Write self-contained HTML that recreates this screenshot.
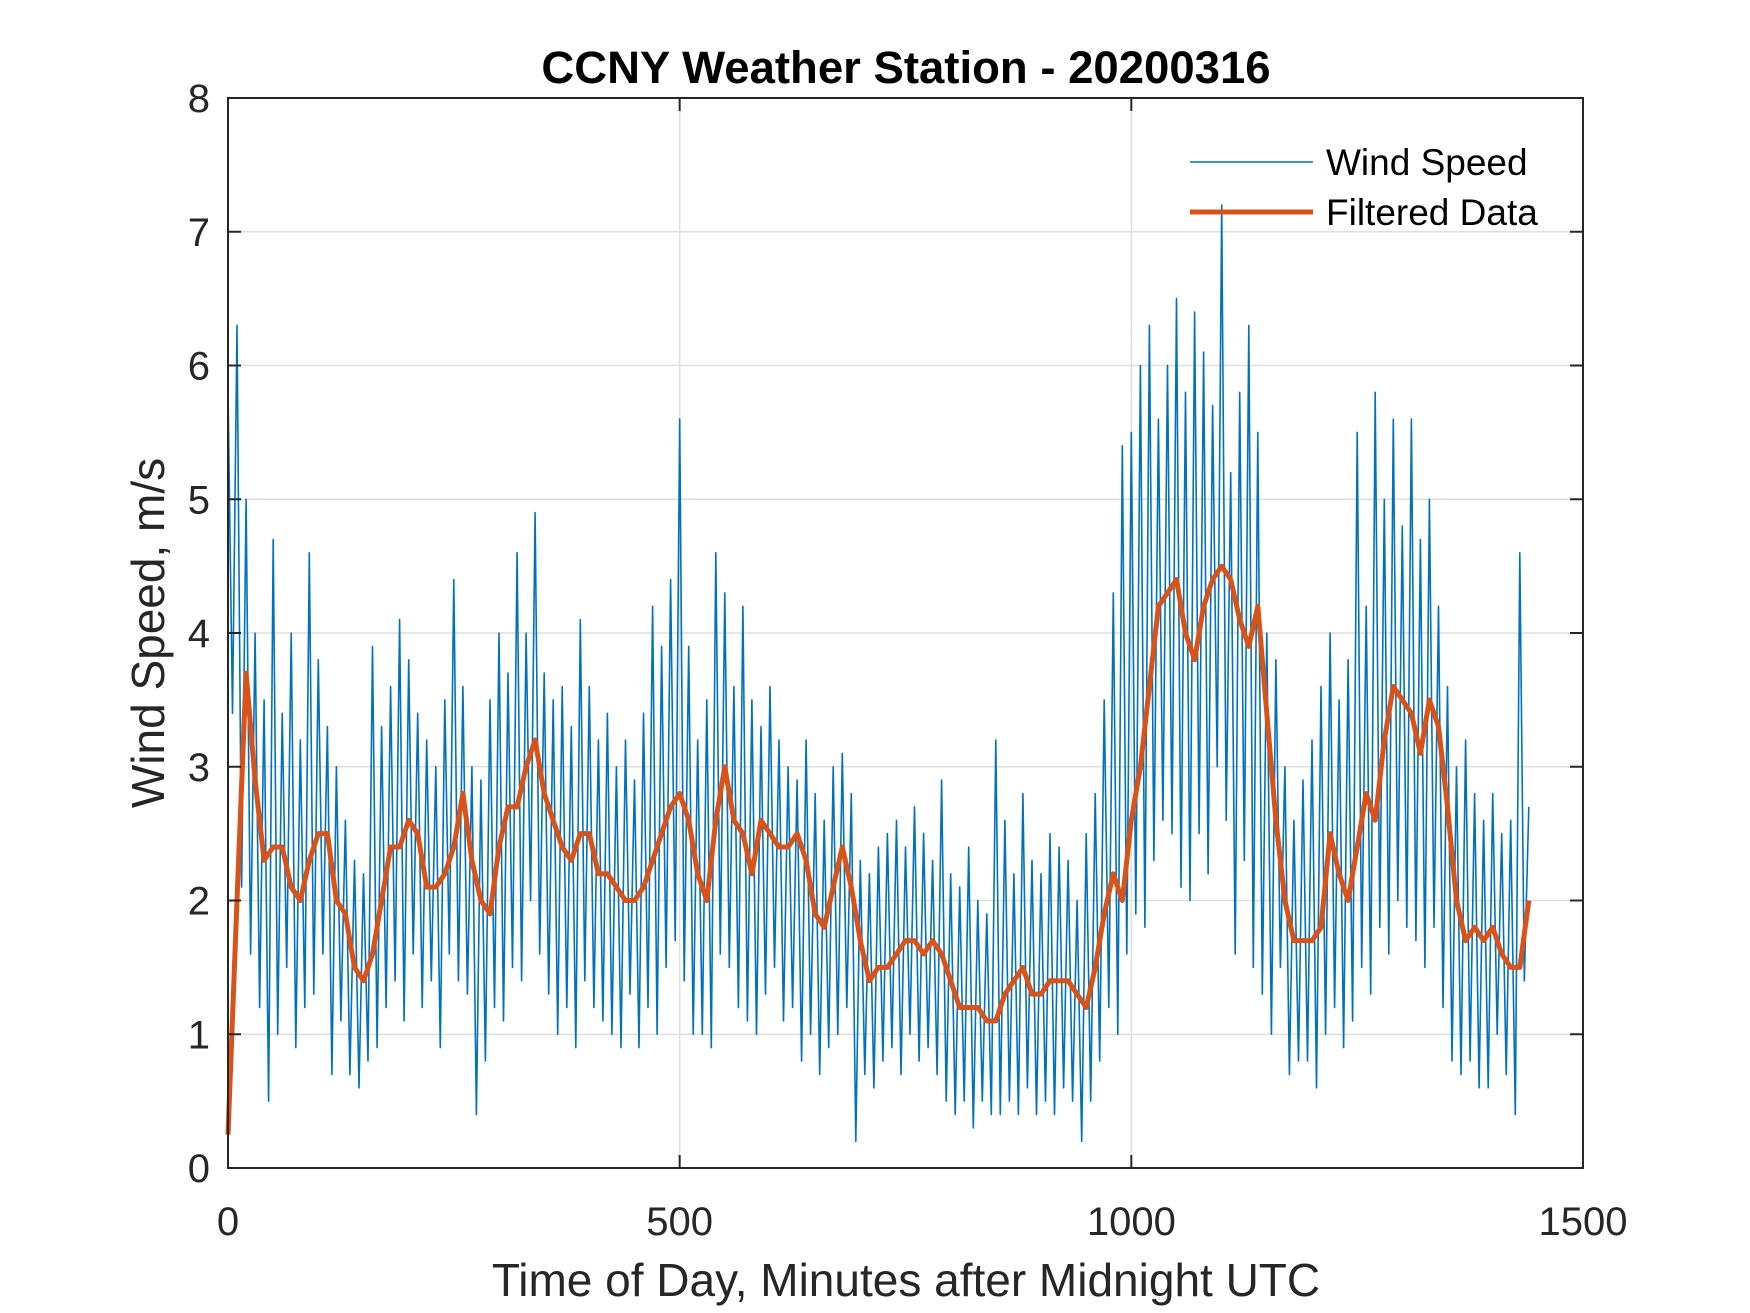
<!DOCTYPE html>
<html><head><meta charset="utf-8"><style>
html,body{margin:0;padding:0;background:#fff;}
svg{display:block;font-family:"Liberation Sans",Arial,sans-serif;}
</style></head><body>
<svg id="chart" width="1750" height="1313" viewBox="0 0 1750 1313">
<rect x="0" y="0" width="1750" height="1313" fill="#fff"/>
<g id="grid"></g>
<g id="series"></g>
<rect x="228" y="98" width="1355" height="1070" fill="none" stroke="#262626" stroke-width="2"/>
<g id="ticks"></g>
<text x="906" y="83" text-anchor="middle" font-size="45.5" font-weight="bold" fill="#000">CCNY Weather Station - 20200316</text>
<text x="906" y="1296" text-anchor="middle" font-size="46" fill="#262626">Time of Day, Minutes after Midnight UTC</text>
<text transform="translate(164,633) rotate(-90)" text-anchor="middle" font-size="46" fill="#262626">Wind Speed, m/s</text>
<g>
<line x1="1190" y1="162" x2="1313" y2="162" stroke="#0072BD" stroke-width="1.6"/>
<text x="1326" y="175" font-size="37" fill="#000">Wind Speed</text>
<line x1="1190" y1="212" x2="1313" y2="212" stroke="#D95319" stroke-width="5"/>
<text x="1326" y="225" font-size="37" fill="#000">Filtered Data</text>
</g>
</svg>
<script>
const xTicks=[0,500,1000,1500];
const yTicks=[0,1,2,3,4,5,6,7,8];
const rawStep=5;
const windSpeed=[5.8,3.4,6.3,2.1,5.0,1.6,4.0,1.2,3.5,0.5,4.7,1.0,3.4,1.5,4.0,0.9,3.2,1.2,4.6,1.3,3.8,1.6,3.3,0.7,3.0,1.1,2.6,0.7,2.3,0.6,2.2,0.8,3.9,0.9,3.3,1.2,3.6,1.4,4.1,1.1,3.8,1.6,3.4,1.2,3.2,1.4,3.0,0.9,3.5,1.6,4.4,1.4,3.6,1.3,3.0,0.4,2.9,0.8,3.5,1.2,4.0,1.1,3.7,1.5,4.6,1.4,4.0,2.0,4.9,1.6,3.7,1.3,3.5,1.0,3.6,1.2,3.3,0.9,4.1,1.4,3.6,1.2,3.2,1.1,3.4,1.0,3.0,0.9,3.2,1.3,2.9,0.9,3.4,1.2,4.2,1.0,3.9,1.5,4.4,1.7,5.6,1.4,3.9,1.0,3.2,1.0,3.5,0.9,4.6,1.6,4.3,1.5,3.6,1.2,4.2,1.1,3.5,1.0,3.3,1.3,3.6,1.5,3.2,1.1,3.0,1.2,2.9,0.8,3.2,1.0,2.8,0.7,2.6,0.9,3.0,1.0,3.1,1.2,2.8,0.2,2.3,0.7,2.2,0.6,2.4,0.8,2.5,0.9,2.6,0.7,2.4,1.0,2.7,0.8,2.5,0.9,2.3,0.7,2.9,0.5,2.2,0.4,2.1,0.5,2.4,0.3,2.0,0.5,1.9,0.4,3.2,0.4,2.6,0.5,2.2,0.4,2.8,0.6,2.3,0.4,2.2,0.5,2.5,0.4,2.4,0.6,2.3,0.5,2.0,0.2,2.5,0.5,2.8,0.8,3.5,1.2,4.3,1.0,5.4,1.6,5.5,1.9,6.0,1.8,6.3,2.3,5.6,2.6,6.0,2.5,6.5,2.1,5.8,2.0,6.4,2.5,6.1,2.2,5.7,3.0,7.2,2.6,5.2,1.6,5.8,2.3,6.3,1.5,5.5,1.3,4.0,1.0,3.8,1.5,3.0,0.7,2.6,0.8,2.9,0.8,3.2,0.6,3.6,1.0,4.0,1.2,3.5,0.9,3.8,1.1,5.5,1.5,4.2,1.3,5.8,1.8,5.0,1.6,5.6,2.0,4.8,1.8,5.6,1.7,4.7,1.5,5.0,1.8,4.2,1.2,3.6,0.8,3.0,0.7,3.2,0.8,2.8,0.6,2.6,0.6,2.8,1.0,2.5,0.7,2.6,0.4,4.6,1.4,2.7];
const filtStep=10;
const filtered=[0.25,2.0,3.7,2.9,2.3,2.4,2.4,2.1,2.0,2.3,2.5,2.5,2.0,1.9,1.5,1.4,1.6,2.0,2.4,2.4,2.6,2.5,2.1,2.1,2.2,2.4,2.8,2.3,2.0,1.9,2.4,2.7,2.7,3.0,3.2,2.8,2.6,2.4,2.3,2.5,2.5,2.2,2.2,2.1,2.0,2.0,2.1,2.3,2.5,2.7,2.8,2.6,2.2,2.0,2.6,3.0,2.6,2.5,2.2,2.6,2.5,2.4,2.4,2.5,2.3,1.9,1.8,2.1,2.4,2.1,1.7,1.4,1.5,1.5,1.6,1.7,1.7,1.6,1.7,1.6,1.4,1.2,1.2,1.2,1.1,1.1,1.3,1.4,1.5,1.3,1.3,1.4,1.4,1.4,1.3,1.2,1.5,1.9,2.2,2.0,2.6,3.0,3.6,4.2,4.3,4.4,4.0,3.8,4.2,4.4,4.5,4.4,4.1,3.9,4.2,3.4,2.6,2.0,1.7,1.7,1.7,1.8,2.5,2.2,2.0,2.4,2.8,2.6,3.2,3.6,3.5,3.4,3.1,3.5,3.3,2.7,2.0,1.7,1.8,1.7,1.8,1.6,1.5,1.5,2.0];

const NS='http://www.w3.org/2000/svg';
const L=228,R=1583,T=98,B=1168;
function xs(v){return L+v/1500*(R-L);}
function ys(v){return B-v/8*(B-T);}
function mk(tag,attrs,parent){const e=document.createElementNS(NS,tag);for(const k in attrs)e.setAttribute(k,attrs[k]);parent.appendChild(e);return e;}
const grid=document.getElementById('grid'),ticks=document.getElementById('ticks'),series=document.getElementById('series');
xTicks.forEach(t=>{
  const x=xs(t);
  if(t>0&&t<1500){const g=mk('line',{x1:x,y1:T,x2:x,y2:B,stroke:'#dfdfdf','stroke-width':1.5},grid);
  
  }
  const a=mk('line',{x1:x,y1:B,x2:x,y2:B-13,stroke:'#262626','stroke-width':2},ticks);
  
  
  const b=mk('line',{x1:x,y1:T,x2:x,y2:T+13,stroke:'#262626','stroke-width':2},ticks);
  
  
  const tx=mk('text',{x:x,y:1235,'text-anchor':'middle','font-size':40,fill:'#262626'},ticks);
  tx.textContent=t;
  
  
});
yTicks.forEach(t=>{
  const y=ys(t);
  if(t>0&&t<8){const g=mk('line',{x1:L,y1:y,x2:R,y2:y,stroke:'#dfdfdf','stroke-width':1.5},grid);
  
  }
  const a=mk('line',{x1:L,y1:y,x2:L+13,y2:y,stroke:'#262626','stroke-width':2},ticks);
  
  
  const b=mk('line',{x1:R,y1:y,x2:R-13,y2:y,stroke:'#262626','stroke-width':2},ticks);
  
  
  const tx=mk('text',{x:210,y:y+14,'text-anchor':'end','font-size':40,fill:'#262626'},ticks);
  tx.textContent=t;
  
  
});
const rawPts=windSpeed.map((v,i)=>xs(i*rawStep).toFixed(1)+','+ys(v).toFixed(1)).join(' ');
const p1=mk('polyline',{points:rawPts,fill:'none',stroke:'#0072BD','stroke-width':1.6,'stroke-linejoin':'round'},series);


const fPts=filtered.map((v,i)=>xs(i*filtStep).toFixed(1)+','+ys(v).toFixed(1)).join(' ');
const p2=mk('polyline',{points:fPts,fill:'none',stroke:'#D95319','stroke-width':5,'stroke-linejoin':'round'},series);


</script>
</body></html>
